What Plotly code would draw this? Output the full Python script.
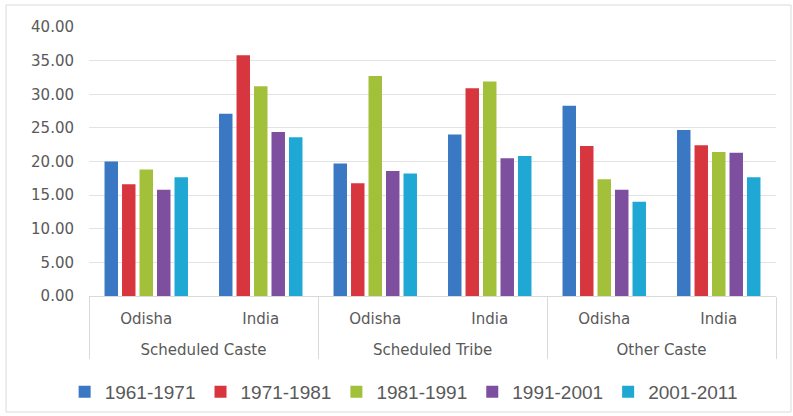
import plotly.graph_objects as go

# Group / region categories for the two-level x axis
group_names = ["Scheduled Caste", "Scheduled Tribe", "Other Caste"]
region_names = ["Odisha", "India"]

# Decadal growth rate (%) for each period, ordered SC-Odisha, SC-India, ST-Odisha, ...
periods = ["1961-1971", "1971-1981", "1981-1991", "1991-2001", "2001-2011"]
g_1961_1971 = [20.0, 27.1, 19.7, 24.0, 28.3, 24.7]
g_1971_1981 = [16.6, 35.8, 16.75, 30.9, 22.3, 22.4]
g_1981_1991 = [18.8, 31.2, 32.7, 31.9, 17.35, 21.4]
g_1991_2001 = [15.8, 24.4, 18.6, 20.5, 15.8, 21.3]
g_2001_2011 = [17.65, 23.6, 18.2, 20.8, 14.0, 17.65]

series = [g_1961_1971, g_1971_1981, g_1981_1991, g_1991_2001, g_2001_2011]
colors = ["#3a78c4", "#d8363f", "#a2c03a", "#7d4f9e", "#1fa8d3"]

# Outer level gets a leading blank line so it sits lower under the region names
groups = ["<br>" + g for g in group_names for _ in region_names]
regions = [r for _ in group_names for r in region_names]

fig = go.Figure()
for name, vals, col in zip(periods, series, colors):
    fig.add_trace(go.Bar(
        x=[groups, regions], y=vals, name=name,
        marker=dict(color=col, line=dict(width=0)),
    ))

fig.update_layout(
    width=793, height=416,
    margin=dict(l=89, r=17, t=27, b=120),
    paper_bgcolor="white", plot_bgcolor="white",
    barmode="group", bargap=0.236, bargroupgap=0.23,
    font=dict(family="DejaVu Sans", size=15, color="#595959"),
    showlegend=True,
    legend=dict(
        orientation="h", xref="container", x=0.509, xanchor="center",
        yref="container", y=1 - 392 / 416, yanchor="middle",
        font=dict(family="Liberation Sans", size=19, color="#595959"),
        itemwidth=30, tracegroupgap=0,
    ),
    xaxis=dict(
        type="multicategory", automargin=False,
        showline=True, linecolor="#d9d9d9", linewidth=1,
        showdividers=True, dividercolor="#d9d9d9", dividerwidth=1,
        ticklabelstandoff=9,
        tickfont=dict(family="DejaVu Sans", size=15, color="#595959"),
        showgrid=False, zeroline=False,
    ),
    yaxis=dict(
        range=[0, 40], dtick=5, tickformat=".2f", automargin=False,
        showgrid=True, gridcolor="#e3e3e3", gridwidth=1,
        zeroline=False, showline=False, ticks="",
        ticklabelstandoff=14,
        tickfont=dict(family="DejaVu Sans", size=15, color="#595959"),
    ),
    shapes=[dict(
        type="rect", xref="paper", yref="paper",
        x0=(6 - 89) / 687, x1=(791 - 89) / 687,
        y0=(296 - 412) / 269, y1=(296 - 5) / 269,
        line=dict(color="#d9d9d9", width=1), fillcolor="rgba(0,0,0,0)",
        layer="below",
    )],
)

fig.write_html("out.html")
